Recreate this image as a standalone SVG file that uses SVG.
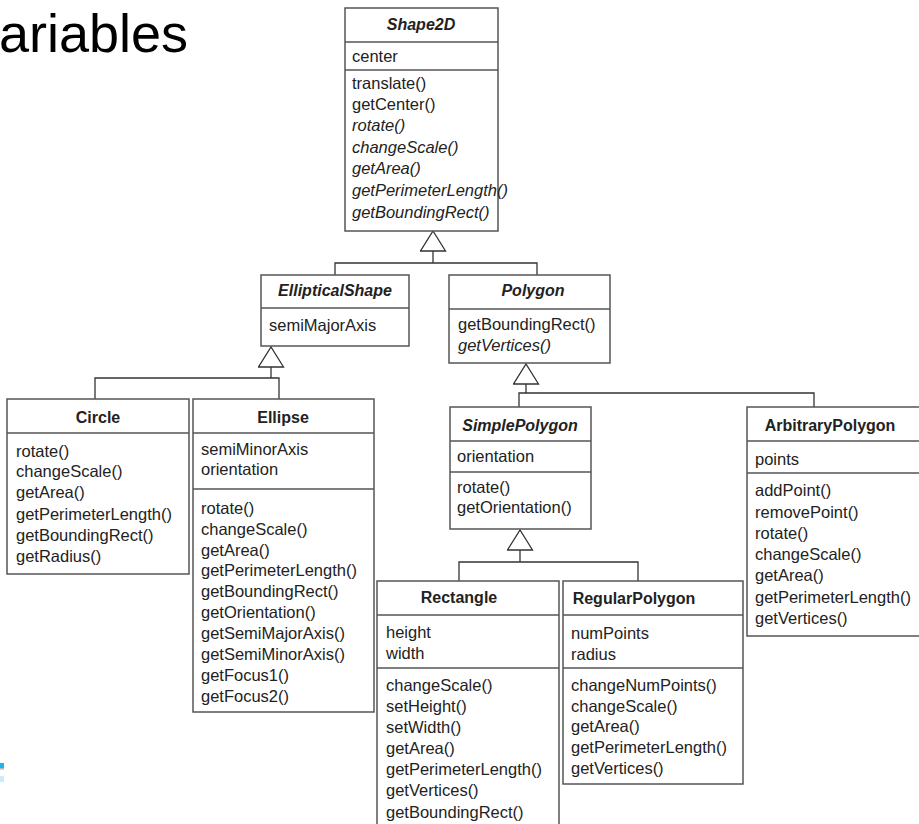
<svg xmlns="http://www.w3.org/2000/svg" width="919" height="824" viewBox="0 0 919 824">
  <style>
    .box { fill: #fff; stroke: #555; stroke-width: 1.5; }
    .div { stroke: #555; stroke-width: 1.5; }
    .t { font-family: "Liberation Sans", Arial, sans-serif; font-size: 16.5px; fill: #222; }
    .ttl { font-weight: bold; text-anchor: middle; font-size: 16px; }
    .i { font-style: italic; }
    .wire { fill: none; stroke: #333; stroke-width: 1.3; }
    .big { font-family: "Liberation Sans", Arial, sans-serif; font-size: 54px; fill: #000; }
  </style>
  <defs>
    <!-- hollow generalization arrowhead -->
    <marker id="gen" viewBox="-1 -1 22 27" refX="20" refY="12.5" markerWidth="22" markerHeight="27" orient="auto" markerUnits="userSpaceOnUse">
      <path d="M0,0 L20,12.5 L0,25 Z" fill="#fff" stroke="#333" stroke-width="1.3"/>
    </marker>
  </defs>

  <rect width="919" height="824" fill="#fff"/>

  <!-- slide heading fragment -->
  <text class="big" x="-1" y="52">ariables</text>
  <!-- slide decoration at left edge -->
  <rect x="0" y="763" width="4" height="5" fill="#16b8ee"/>
  <rect x="0" y="768" width="4" height="1.5" fill="#b0b8c0"/>
  <rect x="0" y="776" width="4" height="6" fill="#cdeafa"/>

  <!-- connectors -->
  <g id="connectors">
    <path class="wire" d="M335,275 V263 H537 V275"/>
    <path class="wire" d="M433,263 V231" marker-end="url(#gen)"/>
    <path class="wire" d="M95,399 V378 H279 V399"/>
    <path class="wire" d="M271,378 V347" marker-end="url(#gen)"/>
    <path class="wire" d="M519,407 V393 H814 V407"/>
    <path class="wire" d="M526,393 V364" marker-end="url(#gen)"/>
    <path class="wire" d="M459,581 V562 H638 V581"/>
    <path class="wire" d="M520,562 V530" marker-end="url(#gen)"/>
  </g>

  <g id="shape2d">
    <rect class="box" x="345" y="8" width="153" height="223"/>
    <line class="div" x1="345" y1="42" x2="498" y2="42"/>
    <line class="div" x1="345" y1="70" x2="498" y2="70"/>
    <text class="t ttl i" x="421" y="30">Shape2D</text>
    <text class="t" x="352" y="62">center</text>
    <text class="t" x="352" y="89">translate()</text>
    <text class="t" x="352" y="110">getCenter()</text>
    <text class="t i" x="352" y="131">rotate()</text>
    <text class="t i" x="352" y="153">changeScale()</text>
    <text class="t i" x="352" y="174">getArea()</text>
    <text class="t i" x="352" y="196">getPerimeterLength()</text>
    <text class="t i" x="352" y="218">getBoundingRect()</text>
  </g>

  <g id="ellipticalshape">
    <rect class="box" x="261" y="275" width="148" height="71"/>
    <line class="div" x1="261" y1="308" x2="409" y2="308"/>
    <text class="t ttl i" x="335" y="296">EllipticalShape</text>
    <text class="t" x="269" y="331">semiMajorAxis</text>
  </g>

  <g id="polygon">
    <rect class="box" x="449" y="275" width="161" height="88"/>
    <line class="div" x1="449" y1="309" x2="610" y2="309"/>
    <text class="t ttl i" x="533" y="296">Polygon</text>
    <text class="t" x="458" y="330">getBoundingRect()</text>
    <text class="t i" x="458" y="351">getVertices()</text>
  </g>

  <g id="circle">
    <rect class="box" x="7" y="399" width="182" height="175"/>
    <line class="div" x1="7" y1="433" x2="189" y2="433"/>
    <text class="t ttl" x="98" y="423">Circle</text>
    <text class="t" x="16" y="457">rotate()</text>
    <text class="t" x="16" y="477">changeScale()</text>
    <text class="t" x="16" y="498">getArea()</text>
    <text class="t" x="16" y="520">getPerimeterLength()</text>
    <text class="t" x="16" y="541">getBoundingRect()</text>
    <text class="t" x="16" y="562">getRadius()</text>
  </g>

  <g id="ellipse">
    <rect class="box" x="193" y="399" width="181" height="313"/>
    <line class="div" x1="193" y1="433" x2="374" y2="433"/>
    <line class="div" x1="193" y1="489" x2="374" y2="489"/>
    <text class="t ttl" x="283" y="423">Ellipse</text>
    <text class="t" x="201" y="455">semiMinorAxis</text>
    <text class="t" x="201" y="475">orientation</text>
    <text class="t" x="201" y="514">rotate()</text>
    <text class="t" x="201" y="535">changeScale()</text>
    <text class="t" x="201" y="556">getArea()</text>
    <text class="t" x="201" y="576">getPerimeterLength()</text>
    <text class="t" x="201" y="597">getBoundingRect()</text>
    <text class="t" x="201" y="618">getOrientation()</text>
    <text class="t" x="201" y="639">getSemiMajorAxis()</text>
    <text class="t" x="201" y="660">getSemiMinorAxis()</text>
    <text class="t" x="201" y="681">getFocus1()</text>
    <text class="t" x="201" y="702">getFocus2()</text>
  </g>

  <g id="simplepolygon">
    <rect class="box" x="450" y="407" width="141" height="122"/>
    <line class="div" x1="450" y1="441" x2="591" y2="441"/>
    <line class="div" x1="450" y1="472" x2="591" y2="472"/>
    <text class="t ttl i" x="520" y="431">SimplePolygon</text>
    <text class="t" x="457" y="462">orientation</text>
    <text class="t" x="457" y="493">rotate()</text>
    <text class="t" x="457" y="513">getOrientation()</text>
  </g>

  <g id="arbitrarypolygon">
    <rect class="box" x="747" y="407" width="180" height="229"/>
    <line class="div" x1="747" y1="441" x2="927" y2="441"/>
    <line class="div" x1="747" y1="473" x2="927" y2="473"/>
    <text class="t ttl" x="830" y="431">ArbitraryPolygon</text>
    <text class="t" x="755" y="465">points</text>
    <text class="t" x="755" y="496">addPoint()</text>
    <text class="t" x="755" y="518">removePoint()</text>
    <text class="t" x="755" y="539">rotate()</text>
    <text class="t" x="755" y="560">changeScale()</text>
    <text class="t" x="755" y="581">getArea()</text>
    <text class="t" x="755" y="603">getPerimeterLength()</text>
    <text class="t" x="755" y="624">getVertices()</text>
  </g>

  <g id="rectangle">
    <rect class="box" x="377" y="581" width="182" height="260"/>
    <line class="div" x1="377" y1="615" x2="559" y2="615"/>
    <line class="div" x1="377" y1="668" x2="559" y2="668"/>
    <text class="t ttl" x="459" y="603">Rectangle</text>
    <text class="t" x="386" y="638">height</text>
    <text class="t" x="386" y="659">width</text>
    <text class="t" x="386" y="691">changeScale()</text>
    <text class="t" x="386" y="712">setHeight()</text>
    <text class="t" x="386" y="733">setWidth()</text>
    <text class="t" x="386" y="754">getArea()</text>
    <text class="t" x="386" y="775">getPerimeterLength()</text>
    <text class="t" x="386" y="796">getVertices()</text>
    <text class="t" x="386" y="818">getBoundingRect()</text>
  </g>

  <g id="regularpolygon">
    <rect class="box" x="563" y="581" width="180" height="203"/>
    <line class="div" x1="563" y1="615" x2="743" y2="615"/>
    <line class="div" x1="563" y1="668" x2="743" y2="668"/>
    <text class="t ttl" x="634" y="604">RegularPolygon</text>
    <text class="t" x="571" y="639">numPoints</text>
    <text class="t" x="571" y="660">radius</text>
    <text class="t" x="571" y="691">changeNumPoints()</text>
    <text class="t" x="571" y="712">changeScale()</text>
    <text class="t" x="571" y="732">getArea()</text>
    <text class="t" x="571" y="753">getPerimeterLength()</text>
    <text class="t" x="571" y="774">getVertices()</text>
  </g>
</svg>
